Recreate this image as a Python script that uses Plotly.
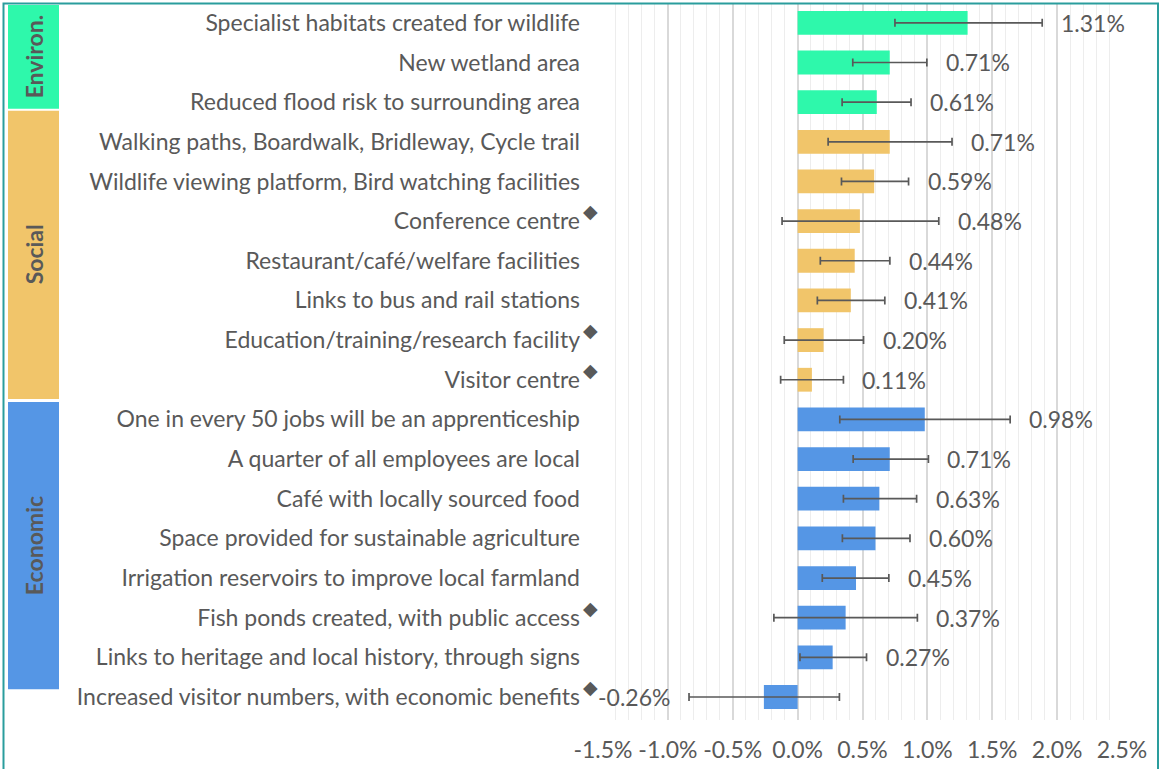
import plotly.graph_objects as go

categories = [
    "Specialist habitats created for wildlife",
    "New wetland area",
    "Reduced flood risk to surrounding area",
    "Walking paths, Boardwalk, Bridleway, Cycle trail",
    "Wildlife viewing platform, Bird watching facilities",
    "Conference centre",
    "Restaurant/café/welfare facilities",
    "Links to bus and rail stations",
    "Education/training/research facility",
    "Visitor centre",
    "One in every 50 jobs will be an apprenticeship",
    "A quarter of all employees are local",
    "Café with locally sourced food",
    "Space provided for sustainable agriculture",
    "Irrigation reservoirs to improve local farmland",
    "Fish ponds created, with public access",
    "Links to heritage and local history, through signs",
    "Increased visitor numbers, with economic benefits",
]
groups = ["Environ."] * 3 + ["Social"] * 7 + ["Economic"] * 8
values = [1.31, 0.71, 0.61, 0.71, 0.59, 0.48, 0.44, 0.41, 0.20, 0.11,
          0.98, 0.71, 0.63, 0.60, 0.45, 0.37, 0.27, -0.26]
ci_low = [0.75, 0.425, 0.343, 0.235, 0.338, -0.12, 0.175, 0.152, -0.103, -0.131,
          0.325, 0.428, 0.353, 0.345, 0.19, -0.183, 0.018, -0.837]
ci_high = [1.885, 0.996, 0.874, 1.19, 0.855, 1.088, 0.711, 0.672, 0.508, 0.353,
           1.638, 1.008, 0.917, 0.866, 0.703, 0.923, 0.531, 0.322]
flagged = [False, False, False, False, False, True, False, False, True, True,
           False, False, False, False, False, True, False, True]
tick_vals = [-1.5, -1.0, -0.5, 0.0, 0.5, 1.0, 1.5, 2.0, 2.5]
tick_text = ["-1.5%", "-1.0%", "-0.5%", "0.0%", "0.5%", "1.0%", "1.5%", "2.0%", "2.5%"]

group_colors = {"Environ.": "#2EF8AB", "Social": "#F1C56A", "Economic": "#5596E5"}
TXT = "#595959"
FONT = "Lato"
FS = 23

W, H = 1161, 769
ML, MR, MT, MB = 603, 39, 3, 49
PW, PH = W - ML - MR, H - MT - MB


def px_x(px):
    return (px - ML) / PW


def px_y(py):
    return (H - MB - py) / PH


fig = go.Figure()

for g in ["Environ.", "Social", "Economic"]:
    idx = [i for i, gg in enumerate(groups) if gg == g]
    fig.add_trace(go.Bar(
        y=[categories[i] for i in idx],
        x=[values[i] for i in idx],
        orientation="h",
        marker=dict(color=group_colors[g], line=dict(width=0)),
        error_x=dict(
            type="data", symmetric=False,
            array=[ci_high[i] - values[i] for i in idx],
            arrayminus=[values[i] - ci_low[i] for i in idx],
            color="#595959", thickness=1.7, width=4,
        ),
        showlegend=False,
        hoverinfo="skip",
    ))

annotations = []
for c, v, lo, hi in zip(categories, values, ci_low, ci_high):
    if v >= 0:
        annotations.append(dict(x=hi, y=c, xref="x", yref="y", text=f"{v:.2f}%",
                                showarrow=False, xanchor="left", xshift=17,
                                font=dict(family=FONT, size=FS, color=TXT)))
    else:
        annotations.append(dict(x=lo, y=c, xref="x", yref="y", text=f"{v:.2f}%",
                                showarrow=False, xanchor="right", xshift=-17,
                                font=dict(family=FONT, size=FS, color=TXT)))

for c, f in zip(categories, flagged):
    if f:
        annotations.append(dict(x=px_x(590), y=c, xref="paper", yref="y", text="◆",
                                showarrow=False, xanchor="center", yanchor="middle",
                                yshift=10,
                                font=dict(family="DejaVu Sans", size=19, color=TXT)))

shapes = []
bands = [("Environ.", 5, 108.7), ("Social", 110.7, 399), ("Economic", 402, 689.3)]
for g, t, b in bands:
    shapes.append(dict(type="rect", xref="paper", yref="paper",
                       x0=px_x(8), x1=px_x(59), y0=px_y(b), y1=px_y(t),
                       fillcolor=group_colors[g], line=dict(width=0), layer="below"))
    annotations.append(dict(x=px_x(33.5), y=px_y((t + b) / 2), xref="paper", yref="paper",
                            text=f"<b>{g}</b>", textangle=-90, showarrow=False,
                            xanchor="center", yanchor="middle",
                            font=dict(family=FONT, size=FS, color=TXT)))

shapes.append(dict(type="rect", xref="paper", yref="paper",
                   x0=px_x(3.5), x1=px_x(1158), y0=px_y(780), y1=px_y(3.5),
                   line=dict(color="#2A9D9D", width=2), fillcolor="rgba(0,0,0,0)"))

fig.update_layout(
    width=W, height=H,
    margin=dict(l=ML, r=MR, t=MT, b=MB),
    paper_bgcolor="white", plot_bgcolor="white",
    bargap=0.4, barmode="overlay",
    shapes=shapes, annotations=annotations,
    font=dict(family=FONT, color=TXT),
)
fig.update_xaxes(
    range=[-1.5, 2.5], tickvals=tick_vals, ticktext=tick_text,
    tickfont=dict(family=FONT, size=FS, color=TXT),
    showgrid=True, gridcolor="#D9D9D9", gridwidth=1.5,
    minor=dict(dtick=0.1, tick0=0, showgrid=True, gridcolor="#EDEDED", gridwidth=1),
    zeroline=True, zerolinecolor="#D9D9D9", zerolinewidth=1.5,
    showline=False, ticks="", ticklabelstandoff=14,
)
fig.update_yaxes(
    categoryorder="array", categoryarray=categories, autorange="reversed",
    tickfont=dict(family=FONT, size=FS, color=TXT),
    showgrid=False, showline=False, ticks="", ticklabelstandoff=22,
)

fig.write_html("out.html", config={"displayModeBar": False},
               post_script="document.body.style.margin='0';")
